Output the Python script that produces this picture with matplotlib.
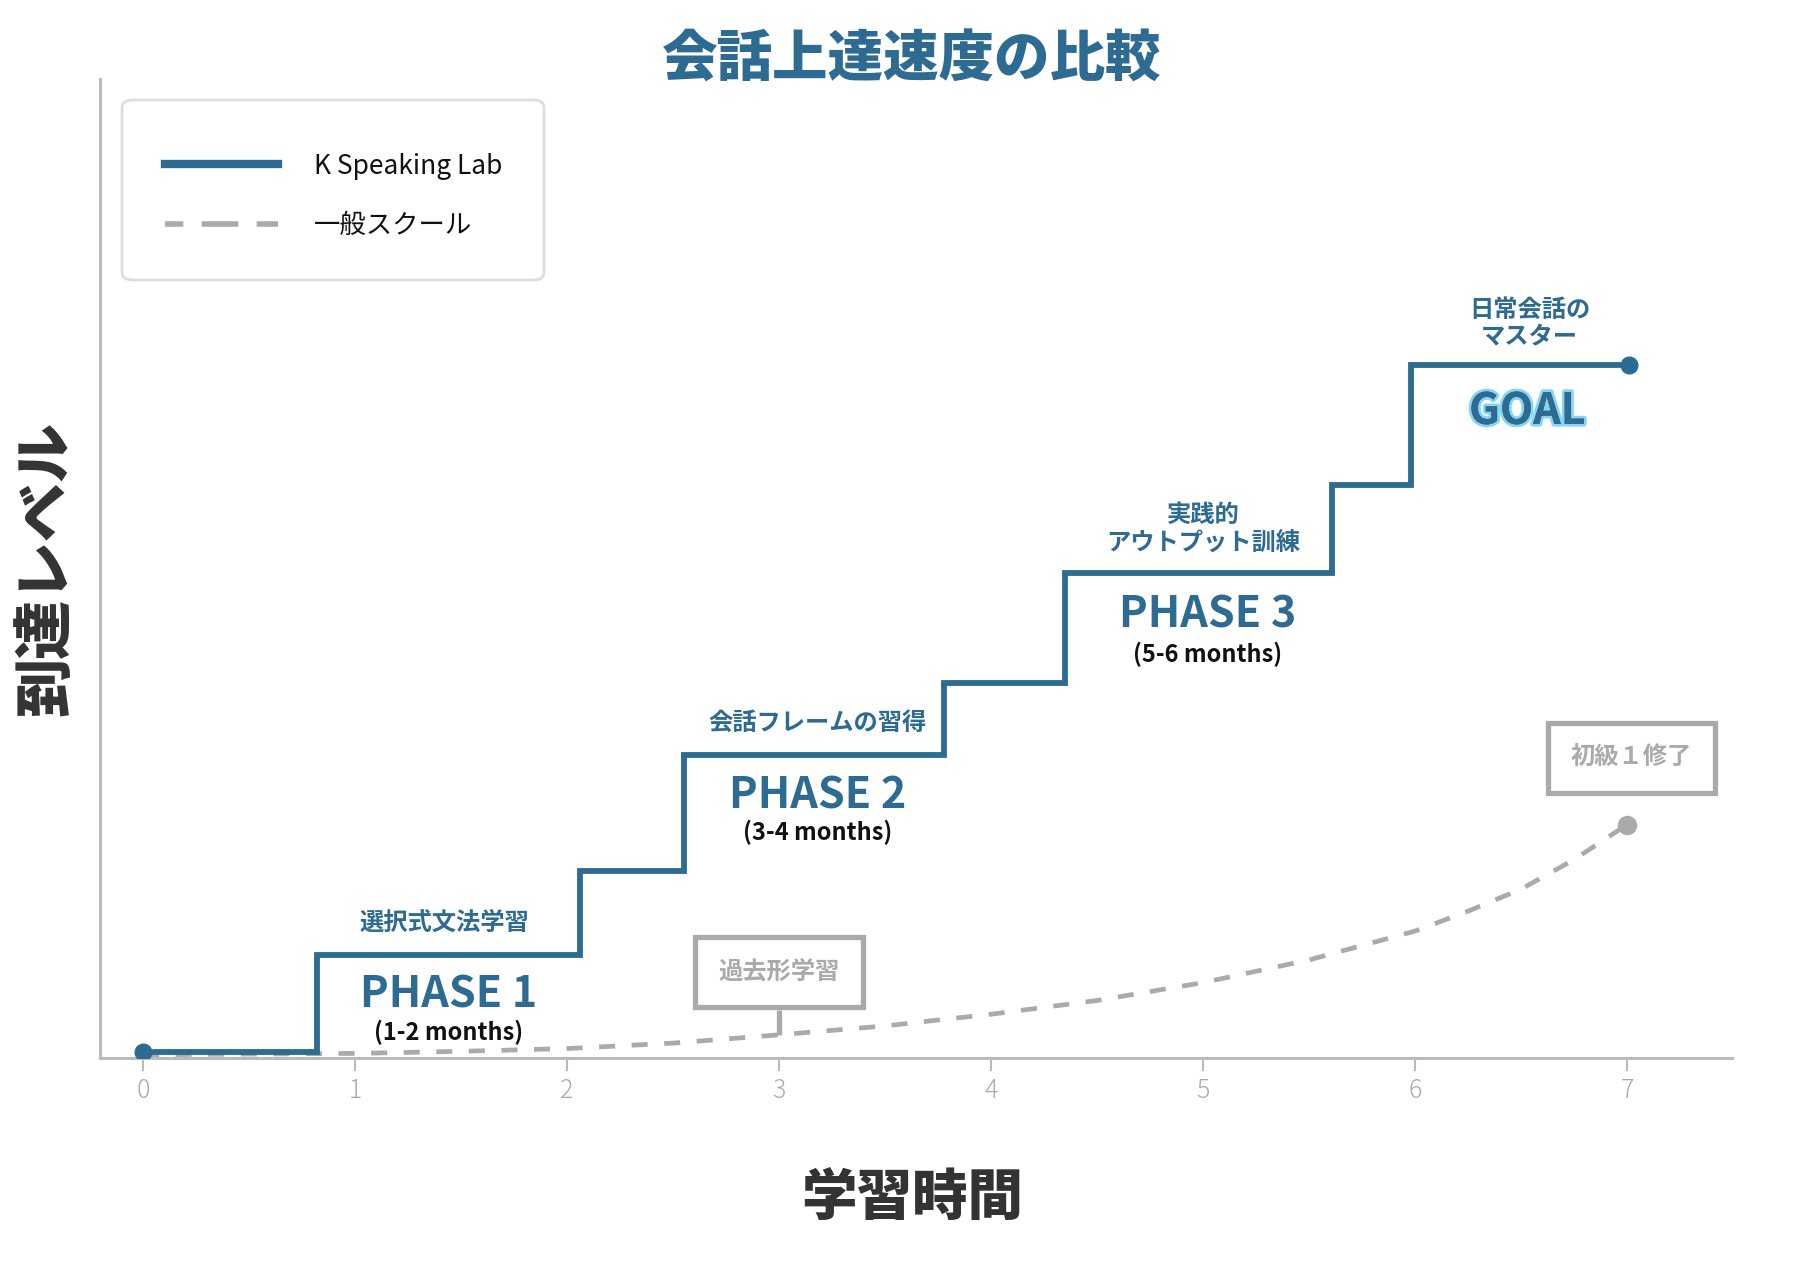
import matplotlib
matplotlib.use("Agg")
import matplotlib.pyplot as plt
from matplotlib.lines import Line2D
from matplotlib.patches import FancyBboxPatch
import matplotlib.patheffects as pe

plt.rcParams['font.family'] = ['Noto Sans CJK JP', 'DejaVu Sans']

# ---- data ----
step_x = [0, 0.82, 2.06, 2.55, 3.78, 4.35, 5.61, 5.98, 7.01]
step_y = [0, 14.1, 26.3, 43.2, 53.7, 69.7, 82.5, 100, 100]

general_x = [0, 0.5, 1, 1.5, 2, 2.5, 3, 3.5, 4, 4.5, 5, 5.5, 6, 6.25, 6.5, 6.75, 7]
general_y = [-0.4, -0.3, -0.2, 0.1, 0.5, 1.3, 2.5, 3.8, 5.5, 7.5, 10.1, 13.4, 17.6, 20.5, 23.7, 28.0, 33.1]

xticks = [0, 1, 2, 3, 4, 5, 6, 7]

phase_x = [1.44, 3.18, 5.02, 6.53]
phase_titles = ["PHASE 1", "PHASE 2", "PHASE 3", "GOAL"]
phase_periods = ["(1-2 months)", "(3-4 months)", "(5-6 months)", ""]
phase_notes = ["選択式文法学習", "会話フレームの習得", "実践的\nアウトプット訓練", "日常会話の\nマスター"]
note_x = [1.42, 3.18, 5.0, 6.54]
note_y = [18.8, 47.9, 76.2, 106.0]
title_y = [8.4, 37.4, 63.6, 93.3]
period_y = [2.8, 31.9, 57.8, None]

callout_texts = ["過去形学習", "初級１修了"]
callout_x = [3.0, 7.02]
callout_y = [11.6, 42.8]
callout_target_y = [2.5, None]

legend_labels = ["K Speaking Lab", "一般スクール"]

BLUE = "#2e6b92"
GRAY = "#aaaaaa"
SPINE = "#bbbbbb"

W, H = 1811, 1273
fig = plt.figure(figsize=(W/100, H/100), dpi=100)
ax = fig.add_axes([100/W, 1-1058/H, (1732-100)/W, (1058-79)/H])
ax.set_xlim(-0.203, 7.495)
ax.set_ylim(-0.87, 141.6)

# general school (dashed)
ax.plot(general_x, general_y, color=GRAY, lw=3.4, dashes=(3.4, 3.5), zorder=2)
ax.plot([general_x[-1]], [general_y[-1]], 'o', color=GRAY, ms=13, zorder=3)

# K speaking lab (steps)
ax.step(step_x, step_y, where='post', color=BLUE, lw=4.2, zorder=4,
        solid_joinstyle='miter')
ax.plot([step_x[0], step_x[-1]], [step_y[0], step_y[-1]], 'o', color=BLUE, ms=12, zorder=5)

# phase annotations
for i in range(4):
    ax.text(note_x[i], note_y[i], phase_notes[i], ha='center', va='center',
            fontsize=17.5, fontweight='bold', color=BLUE, linespacing=1.2, zorder=6)
    t = ax.text(phase_x[i], title_y[i], phase_titles[i], ha='center', va='center',
                fontsize=31, fontweight='bold', color=BLUE, zorder=6)
    if phase_titles[i] == "GOAL":
        t.set_path_effects([pe.withStroke(linewidth=4, foreground="#86d6f2"), pe.Normal()])
    if phase_periods[i]:
        ax.text(phase_x[i], period_y[i], phase_periods[i], ha='center', va='center',
                fontsize=17, fontweight='bold', color='#111111', zorder=6)

# callouts
for i in range(2):
    if callout_target_y[i] is not None:
        ax.plot([callout_x[i], callout_x[i]], [callout_y[i] - 5.5, callout_target_y[i]],
                color=GRAY, lw=3.8, zorder=3, solid_capstyle='butt')
    ax.text(callout_x[i], callout_y[i], callout_texts[i], ha='center', va='center',
            fontsize=17.5, fontweight='bold', color=GRAY, zorder=6,
            bbox=dict(boxstyle='square,pad=0.95', fc='white', ec=GRAY, lw=3.8))

# spines / ticks
for s in ['top', 'right']:
    ax.spines[s].set_visible(False)
for s in ['left', 'bottom']:
    ax.spines[s].set_color(SPINE)
    ax.spines[s].set_linewidth(2.2)
ax.set_yticks([])
ax.set_xticks(xticks)
ax.set_xticklabels([str(v) for v in xticks])
ax.tick_params(axis='x', colors=SPINE, labelcolor=GRAY, length=9, width=1.5,
               labelsize=18, pad=5)
for lbl in ax.get_xticklabels():
    lbl.set_fontweight('light')

# labels
fig.text(0.5036, 1-60/H, "会話上達速度の比較", ha='center', va='center',
         fontsize=40, fontweight='black', color=BLUE)
fig.text(0.5036, 1-1199/H, "学習時間", ha='center', va='center',
         fontsize=40, fontweight='black', color='#333333')
fig.text(46/W, 1-568/H, "到達レベル", ha='center', va='center', rotation=90,
         fontsize=42.5, fontweight='black', color='#333333')

# legend frame (drawn separately) + legend content
frame = FancyBboxPatch((122/W, 1-280/H), (544-122)/W, (280-100)/H,
                       boxstyle="round,pad=0,rounding_size=0.006",
                       transform=fig.transFigure, fc='white', ec='#dddddd', lw=2,
                       zorder=7, clip_on=False)
ax.add_patch(frame)

handles = [Line2D([0], [0], color=BLUE, lw=6),
           Line2D([0], [0], color=GRAY, lw=4, linestyle=(3.3, (6.6, 3.3)))]
leg = ax.legend(handles, legend_labels, loc='upper left',
                bbox_to_anchor=(165/W, 1-152.5/H), bbox_transform=fig.transFigure,
                fontsize=19, handlelength=4.3, handletextpad=1.36, borderpad=0,
                labelspacing=1.23, frameon=False, borderaxespad=0)
leg.set_zorder(9)
for t in leg.get_texts():
    t.set_color('#111111')

fig.savefig("out.png", dpi=100, facecolor='white')
